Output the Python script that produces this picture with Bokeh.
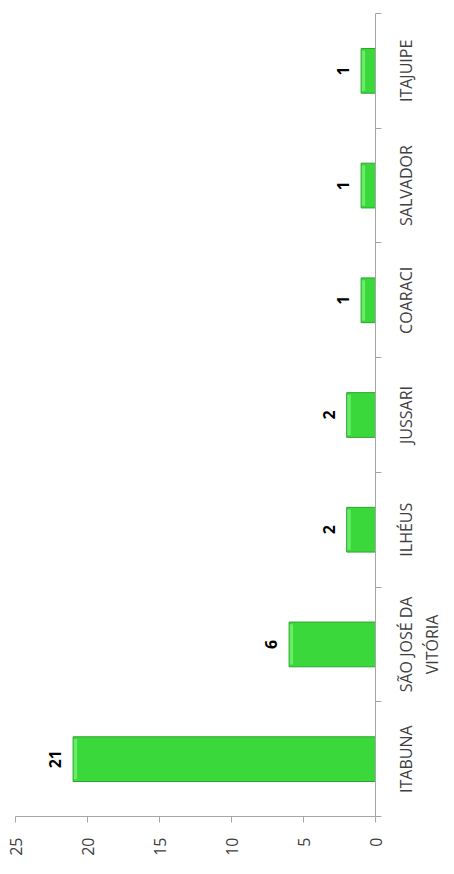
import math
from bokeh.plotting import figure
from bokeh.layouts import row
from bokeh.models import (Range1d, LinearAxis, FixedTicker, ColumnDataSource)
from bokeh.core.properties import value
from bokeh.embed import file_html
from bokeh.resources import INLINE

categories = ["ITABUNA", "SÃO JOSÉ DA\nVITÓRIA", "ILHÉUS", "JUSSARI",
              "COARACI", "SALVADOR", "ITAJUIPE"]
counts = [21, 6, 2, 2, 1, 1, 1]
value_ticks = [0, 5, 10, 15, 20, 25]

n_cat = len(categories)
slot_centers = [i + 0.5 for i in range(n_cat)]
slot_edges = list(range(n_cat + 1))

FONT = "Open Sans"
AXIS_COLOR = "#a6a6a6"
TEXT_COLOR = "#404040"
BAR_H = 0.39
BEVEL = 0.28

yr = Range1d(0, n_cat)

p = figure(width=386, height=858, output_backend="svg", toolbar_location=None,
           x_range=Range1d(25, 0), y_range=yr,
           x_axis_location=None, y_axis_location=None,
           min_border_left=15, min_border_right=11, min_border_top=13,
           min_border_bottom=41)
p.outline_line_color = None
p.xgrid.visible = False
p.ygrid.visible = False
p.background_fill_color = "white"
p.border_fill_color = "white"

src = ColumnDataSource(dict(y=slot_centers, n=counts,
                            tip=[v - BEVEL for v in counts],
                            lbl=[str(v) for v in counts],
                            cat=categories, zero=[0] * n_cat))

# bar body
p.hbar(y="y", left=0, right="n", height=BAR_H, source=src,
       fill_color="#3bd83b", line_color=None)
# lighter bevel at the bar end
p.hbar(y="y", left="tip", right="n", height=BAR_H * 0.9, source=src,
       fill_color="#66ee66", line_color=None)
# outline
p.hbar(y="y", left=0, right="n", height=BAR_H, source=src,
       fill_color=None, line_color="#2ea42e", line_width=1)

p.text(x="n", y="y", text="lbl", source=src, angle=math.pi / 2,
       x_offset=-18, text_align="center", text_baseline="alphabetic",
       text_font=value(FONT), text_font_size="16px", text_font_style="bold",
       text_color="#000000")

# value axis (bottom)
xa = LinearAxis(ticker=FixedTicker(ticks=value_ticks, minor_ticks=[]))
xa.axis_line_color = AXIS_COLOR
xa.major_tick_line_color = AXIS_COLOR
xa.major_tick_in = 0
xa.major_tick_out = 6
xa.minor_tick_line_color = None
xa.major_label_orientation = math.pi / 2
xa.major_label_text_font = FONT
xa.major_label_text_font_size = "16px"
xa.major_label_text_color = TEXT_COLOR
xa.major_label_standoff = 15
p.add_layout(xa, "below")

# category axis (right): tick marks at slot edges
ca = LinearAxis(ticker=FixedTicker(ticks=[], minor_ticks=slot_edges))
ca.axis_line_color = AXIS_COLOR
ca.major_tick_line_color = None
ca.major_tick_out = 0
ca.major_tick_in = 0
ca.major_label_standoff = 0
ca.minor_tick_line_color = AXIS_COLOR
ca.minor_tick_out = 6
ca.minor_tick_in = 0
p.add_layout(ca, "right")

# category names panel, sharing the category scale
q = figure(width=68, height=858, output_backend="svg", toolbar_location=None,
           x_range=Range1d(0, 1), y_range=yr,
           x_axis_location=None, y_axis_location=None,
           min_border_left=0, min_border_right=0, min_border_top=13,
           min_border_bottom=41)
q.outline_line_color = None
q.xgrid.visible = False
q.ygrid.visible = False
q.background_fill_color = "white"
q.border_fill_color = "white"
q.text(x="zero", y="y", text="cat", source=src, angle=math.pi / 2,
       x_offset=8, text_align="center", text_baseline="top",
       text_font=value(FONT), text_font_size="16px", text_color=TEXT_COLOR)

layout = row(p, q, spacing=0)
open("out.html", "w").write(file_html(layout, INLINE))
